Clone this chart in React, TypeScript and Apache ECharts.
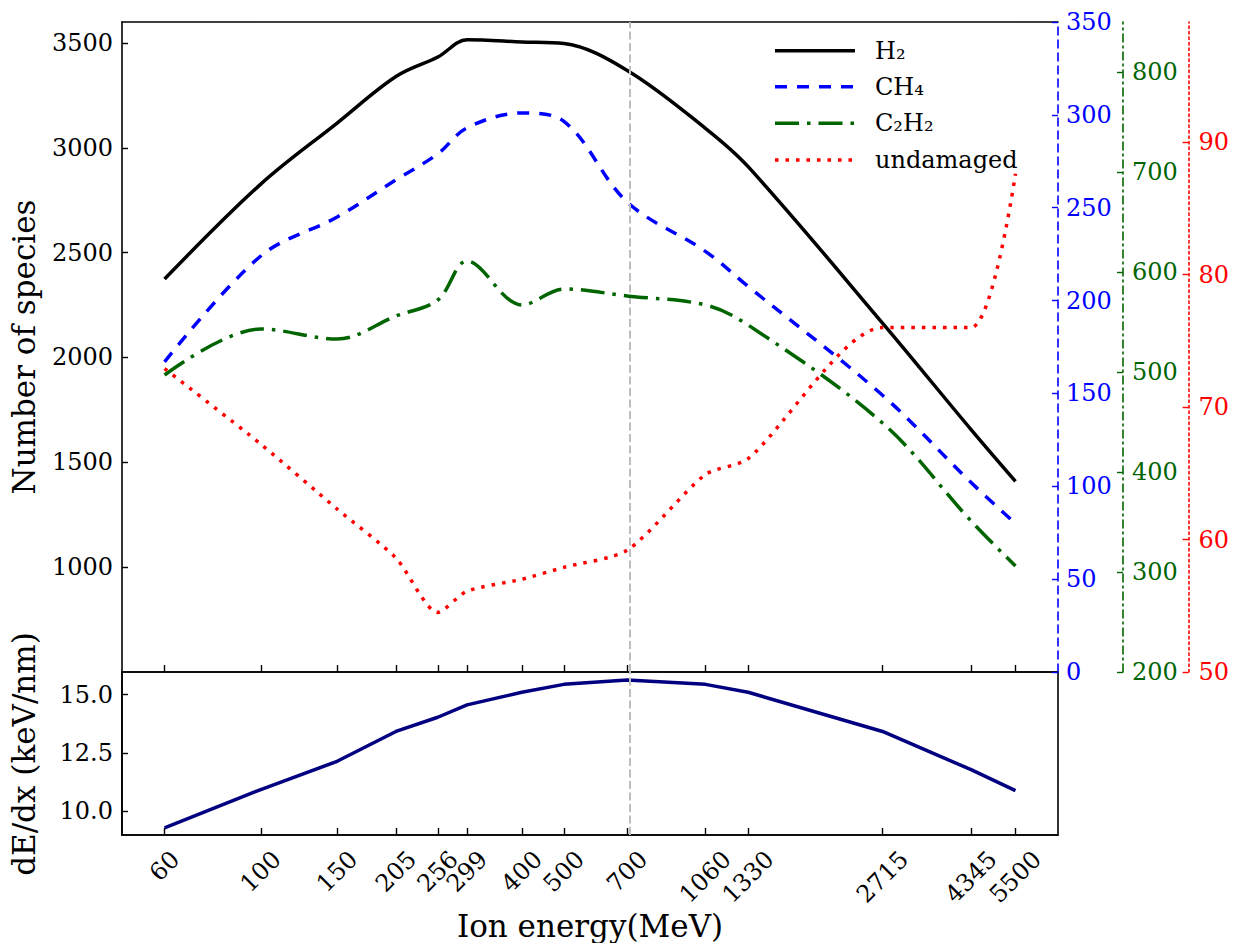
import React, { useEffect, useRef } from 'react';
import * as echarts from 'echarts';

// ---- data ----
const energies = [60, 100, 150, 205, 256, 299, 400, 500, 700, 1060, 1330, 2715, 4345, 5500];
const tickLabels = ['60', '100', '150', '205', '256', '299', '400', '500', '700', '1060', '1330', '2715', '4345', '5500'];
const h2 = [2374, 2827, 3118, 3340, 3433, 3515, 3505, 3497, 3369, 3093, 2910, 2164, 1656, 1409];
const ch4 = [167, 224, 245, 265, 279, 293, 301, 296.5, 253, 226.5, 207.6, 149, 102, 80];
const c2h2 = [497, 543, 533, 556, 572, 611, 567, 583, 576, 567, 547, 449, 351, 306];
const undamaged = [72.9, 67.2, 62.3, 58.6, 54.5, 56.1, 57.0, 57.9, 59.2, 64.9, 66.1, 76.0, 76.0, 87.6];
const dedx = [9.29, 10.93, 12.14, 13.42, 14.03, 14.56, 15.10, 15.44, 15.63, 15.44, 15.10, 13.42, 11.78, 10.88];
const markEnergy = 700;

const leftTicks = [1000, 1500, 2000, 2500, 3000, 3500];
const blueTicks = [0, 50, 100, 150, 200, 250, 300, 350];
const greenTicks = [200, 300, 400, 500, 600, 700, 800];
const redTicks = [50, 60, 70, 80, 90];
const dedxTicks = [10, 12.5, 15];

const FONT = '"DejaVu Serif", serif';
const X_MIN = 1.68;
const X_MAX = 3.8384;
const DEDX_MIN = 8.98;
const DEDX_MAX = 15.97;

let measureCtx: CanvasRenderingContext2D | null = null;
function measure(text: string, size: number): number {
  if (!measureCtx) measureCtx = document.createElement('canvas').getContext('2d');
  if (!measureCtx) return text.length * size * 0.636;
  measureCtx.font = `${size}px "DejaVu Serif"`;
  return measureCtx.measureText(text).width;
}

const lx = (e: number) => Math.log10(e);
const pairs = (vals: number[]) => energies.map((e, i) => [lx(e), vals[i]]);

export default function App() {
  const ref = useRef<HTMLDivElement>(null);
  useEffect(() => {
    if (!ref.current) return;
    const chart = echarts.init(ref.current, null, { renderer: 'svg' });
    const tickFont = { fontFamily: FONT, fontSize: 24 };
    const xTickVals = energies.map(lx);
    const markLine = {
      silent: true,
      symbol: ['none', 'none'],
      label: { show: false },
      lineStyle: { color: '#bdbdbd', width: 2, type: [8, 3.5] },
      data: [{ xAxis: lx(markEnergy) }],
    };
    const legendItems = [
      { name: 'H₂', color: '#000000', dash: null },
      { name: 'CH₄', color: '#0000ff', dash: [12, 10] },
      { name: 'C₂H₂', color: '#006400', dash: [24, 8, 3.5, 8] },
      { name: 'undamaged', color: '#ff0000', dash: [3.5, 7] },
    ];
    const legendY = [50.7, 86.7, 123.3, 160];
    const graphic: any[] = [];
    legendItems.forEach((it, i) => {
      graphic.push({
        type: 'line',
        shape: { x1: 775, y1: legendY[i], x2: 855, y2: legendY[i] },
        style: { stroke: it.color, lineWidth: 3.5, lineDash: it.dash || undefined },
      });
      graphic.push({
        type: 'text',
        x: 875,
        y: legendY[i],
        style: { text: it.name, font: `24px ${FONT}`, fill: '#000', align: 'left', verticalAlign: 'middle' },
      });
    });
    graphic.push({
      type: 'text', x: 24, y: 347, rotation: Math.PI / 2,
      style: { text: 'Number of species', font: `31px ${FONT}`, fill: '#000', align: 'center', verticalAlign: 'middle' },
    });
    graphic.push({
      type: 'text', x: 24, y: 754, rotation: Math.PI / 2,
      style: { text: 'dE/dx (keV/nm)', font: `31px ${FONT}`, fill: '#000', align: 'center', verticalAlign: 'middle' },
    });
    graphic.push({
      type: 'text', x: 590, y: 926,
      style: { text: 'Ion energy(MeV)', font: `31px ${FONT}`, fill: '#000', align: 'center', verticalAlign: 'middle' },
    });

    const blackLine = { lineStyle: { color: '#000', width: 1.6 } };
    const plain = (v: number) => String(v);
    const option: any = {
      animation: false,
      backgroundColor: '#ffffff',
      grid: [
        { left: 122, top: 22, width: 936, height: 650 },
        { left: 122, top: 672, width: 936, height: 163, show: true, borderColor: '#000', borderWidth: 1.6, backgroundColor: 'transparent' },
      ],
      xAxis: [
        {
          type: 'value', gridIndex: 0, min: X_MIN, max: X_MAX, position: 'bottom',
          axisLine: { show: true, onZero: false, ...blackLine },
          axisTick: { show: true, inside: true, length: 7, customValues: xTickVals, lineStyle: { color: '#000', width: 1.4 } },
          axisLabel: { show: false }, splitLine: { show: false },
        },
        {
          type: 'value', gridIndex: 0, min: X_MIN, max: X_MAX, position: 'top',
          axisLine: { show: true, onZero: false, ...blackLine },
          axisTick: { show: false }, axisLabel: { show: false }, splitLine: { show: false },
        },
        {
          type: 'value', gridIndex: 1, min: X_MIN, max: X_MAX, position: 'bottom',
          axisLine: { show: true, onZero: false, ...blackLine },
          axisTick: { show: true, inside: true, length: 7, customValues: xTickVals, lineStyle: { color: '#000', width: 1.4 } },
          axisLabel: { show: false }, splitLine: { show: false },
        },
      ],
      yAxis: [
        {
          type: 'value', gridIndex: 0, min: 500, max: 3600, position: 'left',
          axisLine: { show: true, onZero: false, ...blackLine },
          axisTick: { show: true, inside: true, length: 6, customValues: leftTicks, lineStyle: { color: '#000', width: 1.4 } },
          axisLabel: { show: true, customValues: leftTicks, margin: 9, color: '#000', formatter: plain, ...tickFont },
          splitLine: { show: false },
        },
        {
          type: 'value', gridIndex: 0, min: 0, max: 350, position: 'right', offset: 0,
          axisLine: { show: true, onZero: false, lineStyle: { color: '#0000ff', width: 1.6, type: [8, 5] } },
          axisTick: { show: true, inside: true, length: 6, customValues: blueTicks, lineStyle: { color: '#0000ff', width: 1.4 } },
          axisLabel: { show: true, customValues: blueTicks, margin: 8, color: '#0000ff', formatter: plain, ...tickFont },
          splitLine: { show: false },
        },
        {
          type: 'value', gridIndex: 0, min: 200, max: 850, position: 'right', offset: 65,
          axisLine: { show: true, onZero: false, lineStyle: { color: '#006400', width: 1.6, type: [8, 4, 2, 4] } },
          axisTick: { show: true, inside: true, length: 6, customValues: greenTicks, lineStyle: { color: '#006400', width: 1.4 } },
          axisLabel: { show: true, customValues: greenTicks, margin: 9, color: '#006400', formatter: plain, ...tickFont },
          splitLine: { show: false },
        },
        {
          type: 'value', gridIndex: 0, min: 50, max: 99.06, position: 'right', offset: 130.6,
          axisLine: { show: true, onZero: false, lineStyle: { color: '#ff0000', width: 1.6, type: [2.5, 3] } },
          axisTick: { show: true, inside: true, length: 6, customValues: redTicks, lineStyle: { color: '#ff0000', width: 1.4 } },
          axisLabel: { show: true, customValues: redTicks, margin: 10, color: '#ff0000', formatter: plain, ...tickFont },
          splitLine: { show: false },
        },
        {
          type: 'value', gridIndex: 1, min: DEDX_MIN, max: DEDX_MAX, position: 'left',
          axisLine: { show: true, onZero: false, ...blackLine },
          axisTick: { show: true, inside: true, length: 6, customValues: dedxTicks, lineStyle: { color: '#000', width: 1.4 } },
          axisLabel: { show: true, customValues: dedxTicks, margin: 9, color: '#000', ...tickFont, formatter: (v: number) => v.toFixed(1) },
          splitLine: { show: false },
        },
      ],
      series: [
        {
          name: 'H₂', type: 'line', xAxisIndex: 0, yAxisIndex: 0, data: pairs(h2),
          symbol: 'none', smooth: 0.35, lineStyle: { color: '#000000', width: 3.5 }, markLine, z: 3,
        },
        {
          name: 'CH₄', type: 'line', xAxisIndex: 0, yAxisIndex: 1, data: pairs(ch4),
          symbol: 'none', smooth: 0.35, lineStyle: { color: '#0000ff', width: 3.5, type: [12, 10] }, z: 4,
        },
        {
          name: 'C₂H₂', type: 'line', xAxisIndex: 0, yAxisIndex: 2, data: pairs(c2h2),
          symbol: 'none', smooth: 0.35, lineStyle: { color: '#006400', width: 3.5, type: [24, 8, 3.5, 8] }, z: 5,
        },
        {
          name: 'undamaged', type: 'line', xAxisIndex: 0, yAxisIndex: 3, data: pairs(undamaged),
          symbol: 'none', smooth: 0.25, lineStyle: { color: '#ff0000', width: 3.5, type: [3.5, 7] }, z: 6,
        },
        {
          name: 'dE/dx', type: 'line', xAxisIndex: 2, yAxisIndex: 4, data: pairs(dedx),
          symbol: 'none', smooth: false, lineStyle: { color: '#000080', width: 3.5 }, markLine, z: 3,
        },
        {
          name: 'ticklabels', type: 'custom', xAxisIndex: 2, yAxisIndex: 4, clip: false, silent: true,
          data: energies.map((e, i) => [lx(e), DEDX_MIN, i]),
          encode: { x: 0, y: 1 },
          renderItem: (params: any, api: any) => {
            const idx = api.value(2);
            const p = api.coord([api.value(0), DEDX_MIN]);
            const label = tickLabels[idx];
            const w = measure(label, 24);
            const half = (w + 18) / (2 * Math.SQRT2);
            return {
              type: 'text',
              x: p[0],
              y: p[1] + 14 + half,
              rotation: Math.PI / 4,
              style: { text: label, font: `24px ${FONT}`, fill: '#000', align: 'center', verticalAlign: 'middle' },
            };
          },
        },
      ],
      graphic,
    };
    chart.setOption(option);
    return () => chart.dispose();
  }, []);
  return (
    <div
      ref={ref}
      style={{ position: 'fixed', left: 0, top: 0, width: 1233, height: 943, background: '#fff' }}
    />
  );
}
